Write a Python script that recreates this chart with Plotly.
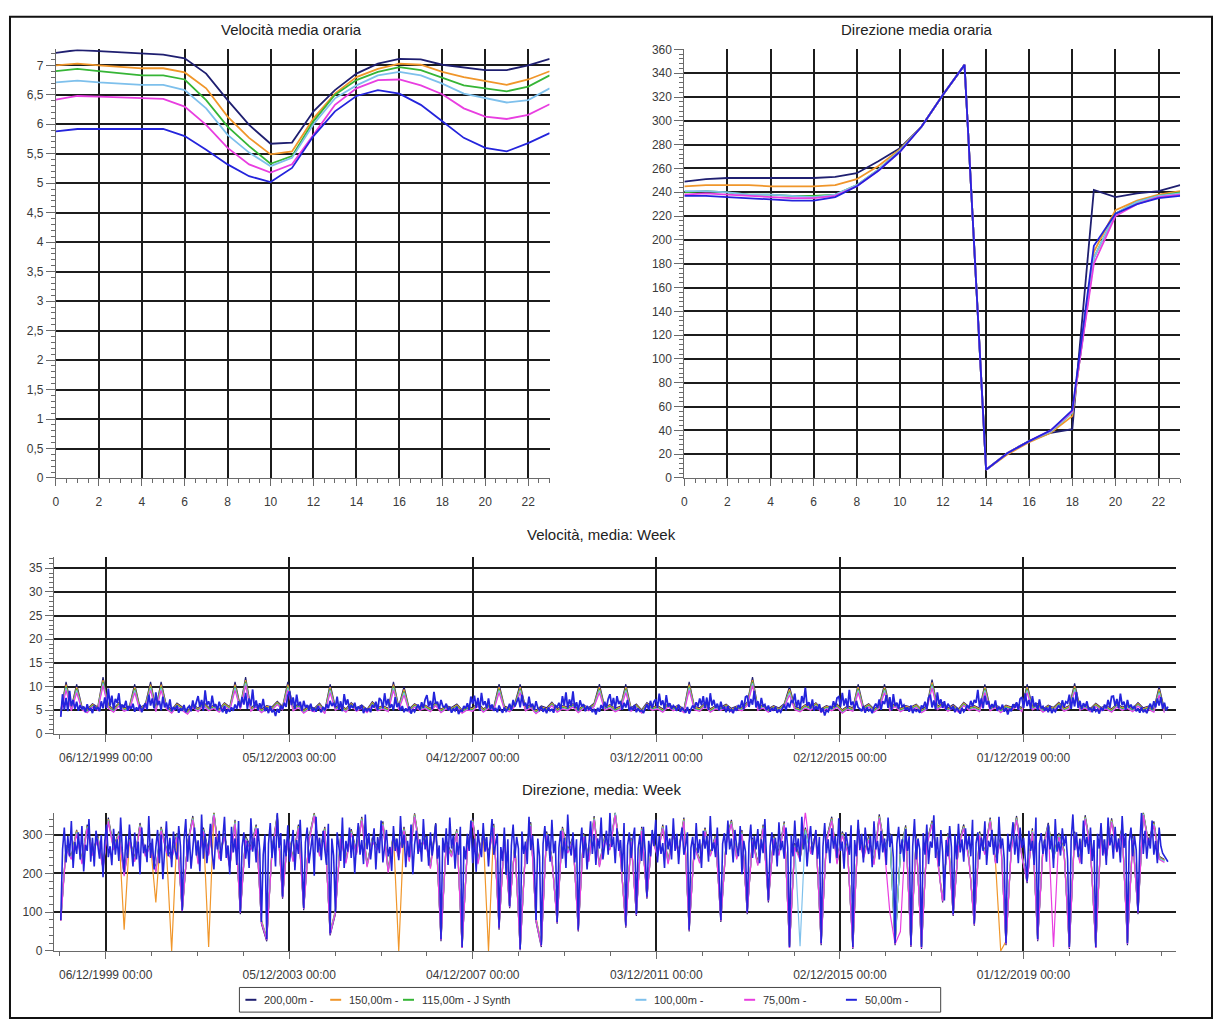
import pandas as pd
import plotly.graph_objects as go

W, H = 1215, 1028
FONT = "Liberation Sans, Arial, sans-serif"

# ---- series metadata -------------------------------------------------------
series_names = ["200,00m -", "150,00m -", "115,00m - J Synth", "100,00m -", "75,00m -", "50,00m -"]
series_colors = ["#1f1f70", "#f0962a", "#36b536", "#7ec0ec", "#e83ee0", "#2424dc"]

# ---- hourly means ------------------------------------------------------------
hours = list(range(24))

vel_h_200 = [7.21, 7.26, 7.24, 7.22, 7.21, 7.18, 7.12, 6.86, 6.41, 5.99, 5.67, 5.69,
             6.22, 6.58, 6.86, 7.03, 7.11, 7.10, 7.01, 6.96, 6.92, 6.92, 7.00, 7.11]
vel_h_150 = [7.00, 7.03, 7.00, 6.97, 6.95, 6.95, 6.88, 6.61, 6.13, 5.77, 5.49, 5.54,
             6.10, 6.52, 6.80, 6.94, 7.03, 7.01, 6.89, 6.80, 6.73, 6.67, 6.76, 6.90]
vel_h_115 = [6.90, 6.94, 6.90, 6.86, 6.83, 6.83, 6.76, 6.41, 5.96, 5.63, 5.33, 5.46,
             6.05, 6.50, 6.75, 6.89, 6.97, 6.92, 6.79, 6.66, 6.61, 6.56, 6.64, 6.83]
vel_h_100 = [6.71, 6.74, 6.71, 6.69, 6.67, 6.67, 6.58, 6.27, 5.82, 5.52, 5.29, 5.43,
             6.00, 6.44, 6.66, 6.83, 6.89, 6.83, 6.69, 6.52, 6.44, 6.37, 6.41, 6.61]
vel_h_75 = [6.42, 6.48, 6.47, 6.46, 6.44, 6.43, 6.30, 5.99, 5.60, 5.32, 5.18, 5.32,
            5.82, 6.33, 6.61, 6.75, 6.76, 6.66, 6.51, 6.27, 6.13, 6.09, 6.16, 6.34]
vel_h_50 = [5.88, 5.92, 5.92, 5.92, 5.92, 5.92, 5.80, 5.57, 5.32, 5.12, 5.02, 5.26,
            5.80, 6.22, 6.48, 6.58, 6.52, 6.33, 6.05, 5.77, 5.60, 5.54, 5.68, 5.85]

dir_h_200 = [249, 251, 252, 252, 252, 252, 252, 253, 256, 266, 277, 295,
             322, 347, 7, 21, 31, 38, 41, 242, 236, 239, 241, 246]
dir_h_150 = [245, 246, 246, 246, 245, 245, 245, 246, 251, 262, 276, 295,
             322, 347, 7, 20, 30, 38, 52, 190, 225, 233, 238, 241]
dir_h_115 = [240, 241, 240, 238, 238, 237, 237, 238, 246, 259, 275, 295,
             322, 347, 7, 21, 31, 39, 55, 185, 222, 232, 237, 240]
dir_h_100 = [241, 241, 240, 238, 238, 237, 236, 238, 246, 259, 275, 295,
             322, 347, 7, 21, 31, 39, 55, 185, 222, 232, 237, 239]
dir_h_75 = [238, 239, 238, 237, 236, 235, 235, 237, 245, 258, 274, 295,
            322, 347, 7, 21, 31, 40, 56, 180, 220, 230, 236, 238]
dir_h_50 = [237, 237, 236, 235, 234, 233, 233, 236, 245, 258, 274, 295,
            322, 347, 7, 21, 31, 40, 57, 195, 222, 230, 235, 237]

# ---- weekly means --------------------------------------------------------------
# 50 m level sampled every 2 weeks, the other levels every 6 weeks
week_dates_fine = pd.date_range("1998-12-14", periods=630, freq="14D")
week_dates = pd.date_range("1998-12-14", periods=210, freq="42D")

vel_w_50 = [
    3.6, 8.4, 5.1, 7.6, 4.8, 9.1, 5.9, 7.2, 5.3, 6.8, 4.9, 6.1, 5.2, 5.8, 4.6, 6.3, 5.0, 5.5, 4.4, 6.0, 5.1, 5.7, 4.8, 6.9, 5.4, 7.7,
    5.5, 9.6, 6.0, 8.1, 5.2, 7.4, 6.6, 8.6, 5.1, 6.2, 5.6, 7.0, 4.9, 5.9, 5.3, 6.4, 4.7, 5.6, 5.0, 6.2, 4.6, 5.8, 6.5, 5.2, 8.3, 6.0,
    7.5, 5.4, 8.8, 6.1, 7.0, 5.0, 7.9, 5.6, 6.6, 5.2, 7.3, 4.8, 5.7, 5.1, 6.0, 4.5, 5.4, 4.9, 6.1, 4.6, 5.5, 5.9, 4.8, 7.1, 5.3, 6.7,
    8.0, 5.7, 7.2, 4.9, 9.2, 6.2, 6.9, 5.4, 8.1, 5.8, 6.3, 5.0, 6.8, 5.5, 4.6, 5.9, 4.3, 5.2, 4.7, 5.6, 4.9, 6.2, 5.3, 6.9, 5.6, 7.8,
    6.2, 8.7, 5.3, 7.5, 6.0, 9.4, 5.6, 7.1, 5.0, 6.5, 5.4, 7.4, 4.8, 5.6, 4.4, 5.9, 4.6, 5.1, 3.8, 5.3, 4.5, 6.0, 5.2, 6.6, 5.7, 8.2,
    9.0, 6.1, 7.7, 5.3, 8.3, 5.9, 6.8, 4.9, 7.0, 5.6, 6.1, 5.1, 6.4, 4.8, 5.5, 4.7, 5.9, 5.2, 4.6, 5.7, 5.0, 6.3, 5.4, 7.0, 5.9, 6.6,
    5.6, 7.9, 5.1, 6.9, 4.8, 8.4, 6.2, 7.3, 5.2, 6.0, 5.5, 6.6, 4.9, 5.8, 5.3, 6.1, 4.4, 5.5, 4.8, 5.4, 4.6, 6.1, 5.6, 6.8, 5.0, 7.6,
    7.1, 5.4, 8.6, 6.0, 7.4, 5.5, 6.3, 5.0, 7.8, 5.7, 6.5, 4.9, 5.9, 4.6, 5.4, 4.8, 5.8, 4.3, 5.2, 4.7, 5.6, 6.2, 5.1, 6.7, 5.5, 7.3,
    8.2, 5.8, 7.0, 5.2, 8.9, 6.4, 6.8, 5.3, 7.2, 5.9, 5.6, 6.4, 5.0, 5.7, 4.5, 5.3, 4.9, 5.8, 4.2, 5.0, 4.8, 5.9, 5.4, 6.5, 5.1, 7.9,
    6.4, 8.1, 5.5, 7.6, 5.0, 8.7, 6.1, 6.9, 5.4, 7.5, 5.2, 6.2, 4.9, 5.5, 4.6, 6.0, 5.1, 4.5, 5.6, 4.8, 5.3, 6.4, 5.0, 7.2, 5.8, 6.9,
    7.7, 5.6, 8.3, 6.0, 6.6, 5.3, 7.9, 5.7, 6.4, 5.1, 6.9, 5.5, 5.0, 5.8, 4.7, 5.4, 4.4, 5.6, 4.9, 5.2, 4.5, 6.0, 5.7, 6.6, 5.2, 8.0,
    6.0, 8.8, 5.4, 7.3, 5.9, 9.0, 5.5, 6.7, 5.0, 7.1, 5.8, 6.3, 4.8, 5.9, 5.2, 5.6, 4.6, 5.3, 4.1, 5.5, 4.7, 6.1, 5.3, 6.8, 5.6, 7.4,
    8.4, 5.9, 7.6, 5.3, 8.0, 6.3, 7.0, 5.1, 6.6, 5.6, 7.2, 4.9, 5.7, 5.0, 6.1, 4.6, 5.4, 4.8, 5.0, 4.4, 5.6, 6.3, 5.1, 7.0, 5.5, 6.8,
    7.3, 5.5, 8.5, 6.1, 7.1, 5.2, 8.2, 5.8, 6.5, 5.3, 6.0, 5.6, 4.9, 6.2, 4.7, 5.5, 5.0, 4.5, 5.7, 4.3, 5.2, 6.0, 5.4, 6.7, 5.8, 7.5,
    6.1, 8.0, 5.4, 7.7, 5.1, 8.6, 6.0, 7.2, 5.5, 6.4, 5.0, 6.8, 5.3, 5.7, 4.6, 5.9, 4.8, 5.2, 4.4, 5.6, 4.9, 6.1, 5.5, 7.1, 5.2, 7.8,
    8.1, 5.7, 7.4, 6.2, 9.1, 5.6, 6.9, 5.2, 7.6, 5.8, 6.2, 5.0, 6.0, 4.7, 5.5, 4.9, 5.8, 4.5, 5.1, 4.6, 5.4, 6.2, 5.0, 6.6, 5.6, 7.0,
    6.7, 8.5, 5.6, 7.2, 5.3, 8.0, 6.5, 9.8, 5.9, 6.7, 5.4, 7.3, 4.9, 5.8, 5.1, 6.3, 4.6, 5.4, 3.9, 5.0, 4.7, 5.9, 5.3, 6.9, 5.7, 7.6,
    7.9, 5.8, 8.7, 6.0, 7.5, 5.4, 9.3, 6.1, 6.8, 5.2, 7.0, 5.6, 5.3, 4.8, 5.9, 4.5, 5.6, 4.9, 5.2, 4.4, 5.7, 6.4, 5.5, 7.3, 5.1, 6.9,
    6.3, 8.2, 5.5, 7.8, 5.0, 8.4, 5.9, 6.6, 5.3, 7.4, 5.7, 6.1, 5.0, 5.6, 4.7, 6.0, 4.4, 5.3, 4.8, 5.1, 4.5, 6.0, 5.6, 6.8, 5.2, 7.7,
    8.3, 5.6, 7.1, 5.2, 8.8, 6.3, 7.3, 5.5, 6.9, 5.1, 6.4, 5.7, 5.2, 5.9, 4.6, 5.4, 5.0, 4.3, 5.5, 4.7, 5.2, 6.1, 5.4, 7.0, 5.8, 7.2,
    6.6, 9.3, 5.7, 7.5, 5.4, 8.1, 6.2, 7.0, 5.3, 6.3, 5.6, 7.1, 4.9, 5.7, 5.2, 6.2, 4.7, 5.5, 4.1, 5.3, 4.8, 6.3, 5.5, 6.7, 5.1, 7.4,
    7.8, 5.5, 8.6, 5.9, 7.2, 5.3, 8.0, 5.8, 6.6, 5.0, 7.3, 5.4, 5.8, 4.9, 5.6, 4.6, 5.9, 4.4, 5.2, 4.7, 5.5, 6.0, 5.3, 7.1, 5.7, 6.8,
    6.5, 8.3, 5.3, 7.7, 5.8, 8.9, 5.5, 7.0, 5.2, 6.5, 5.7, 6.9, 5.0, 5.5, 4.6, 5.8, 4.8, 5.2, 4.3, 5.6, 4.9, 6.2, 5.4, 7.2, 5.6, 7.9,
    8.0, 5.9, 7.4, 5.4, 8.5, 6.1, 6.8, 5.1, 7.2, 5.6, 6.2, 5.3, 5.9, 4.8, 5.4, 4.5, 5.7, 4.6, 5.1, 4.4, 5.5, 6.4, 5.2, 6.9, 5.6, 7.5,
    6.0, 7.8, 5.3, 6.6, 5.0, 5.8,
]
vel_w_200 = [
    5.0, 11.0, 5.6, 10.5, 5.8, 5.2, 6.4, 5.7, 12.0, 6.1, 5.3, 6.6, 5.5, 5.9,
    10.5, 5.6, 6.2, 11.0, 5.4, 11.0, 6.0, 5.1, 6.5, 5.7, 4.9, 6.3, 5.4, 6.7,
    5.6, 6.1, 5.3, 6.6, 5.7, 11.0, 5.9, 12.0, 5.5, 6.4, 5.2, 6.0, 5.7, 6.9,
    5.8, 11.0, 5.6, 6.3, 5.1, 5.9, 5.4, 6.5, 5.0, 10.5, 5.7, 6.2, 5.3, 6.6,
    5.5, 6.1, 5.2, 6.8, 5.6, 6.0, 5.4, 11.0, 5.8, 10.0, 5.3, 6.4, 5.7, 6.1,
    5.4, 6.7, 5.2, 6.0, 5.6, 6.3, 5.1, 5.8, 5.5, 6.6, 5.3, 6.1, 5.7, 10.5,
    5.9, 5.4, 6.5, 10.5, 5.6, 6.2, 5.0, 5.9, 5.5, 6.7, 5.3, 6.0, 5.7, 6.4,
    5.2, 6.1, 5.6, 6.5, 10.5, 5.7, 6.2, 5.4, 5.9, 10.5, 5.5, 6.3, 5.1, 6.6,
    5.7, 6.0, 5.3, 6.4, 5.6, 6.1, 5.2, 11.0, 5.8, 5.5, 6.6, 5.3, 6.0, 5.7,
    6.3, 5.4, 5.9, 5.6, 6.7, 12.0, 5.7, 6.2, 5.3, 6.0, 5.5, 6.4, 10.0, 5.8,
    5.4, 6.2, 5.7, 6.6, 5.3, 6.0, 5.6, 6.3, 5.1, 5.9, 5.5, 10.5, 5.7, 6.4,
    5.3, 6.1, 10.5, 5.6, 6.5, 5.4, 6.0, 5.7, 6.3, 5.2, 5.9, 11.5, 5.8, 6.6,
    5.5, 6.2, 5.3, 6.7, 5.7, 6.0, 5.4, 10.5, 5.6, 6.3, 5.2, 6.1, 5.7, 6.5,
    5.4, 10.5, 5.8, 6.4, 5.3, 6.1, 5.6, 6.7, 5.5, 6.0, 10.7, 5.7, 6.2, 5.4,
    6.5, 5.6, 6.0, 5.3, 6.4, 5.7, 6.1, 5.4, 6.6, 5.5, 5.9, 5.3, 10.0, 5.2,
]
vel_w_150 = [
    4.8, 10.4, 5.4, 9.9, 5.6, 5.0, 6.2, 5.5, 11.4, 5.9, 5.1, 6.4, 5.3, 5.7,
    9.9, 5.4, 6.0, 10.4, 5.2, 10.4, 5.8, 4.9, 6.3, 5.5, 4.7, 6.1, 5.2, 6.5,
    5.4, 5.9, 5.1, 6.4, 5.5, 10.4, 5.7, 11.4, 5.3, 6.2, 5.0, 5.8, 5.5, 6.7,
    5.6, 10.4, 5.4, 6.1, 4.9, 5.7, 5.2, 6.3, 4.8, 9.9, 5.5, 6.0, 5.1, 6.4,
    5.3, 5.9, 5.0, 6.6, 5.4, 5.8, 5.2, 10.4, 5.6, 9.4, 5.1, 6.2, 5.5, 5.9,
    5.2, 6.5, 5.0, 5.8, 5.4, 6.1, 4.9, 5.6, 5.3, 6.4, 5.1, 5.9, 5.5, 9.9,
    5.7, 5.2, 6.3, 9.9, 5.4, 6.0, 4.8, 5.7, 5.3, 6.5, 5.1, 5.8, 5.5, 6.2,
    5.0, 5.9, 5.4, 6.3, 9.9, 5.5, 6.0, 5.2, 5.7, 9.9, 5.3, 6.1, 4.9, 6.4,
    5.5, 5.8, 5.1, 6.2, 5.4, 5.9, 5.0, 10.4, 5.6, 5.3, 6.4, 5.1, 5.8, 5.5,
    6.1, 5.2, 5.7, 5.4, 6.5, 11.4, 5.5, 6.0, 5.1, 5.8, 5.3, 6.2, 9.4, 5.6,
    5.2, 6.0, 5.5, 6.4, 5.1, 5.8, 5.4, 6.1, 4.9, 5.7, 5.3, 9.9, 5.5, 6.2,
    5.1, 5.9, 9.9, 5.4, 6.3, 5.2, 5.8, 5.5, 6.1, 5.0, 5.7, 10.9, 5.6, 6.4,
    5.3, 6.0, 5.1, 6.5, 5.5, 5.8, 5.2, 9.9, 5.4, 6.1, 5.0, 5.9, 5.5, 6.3,
    5.2, 9.9, 5.6, 6.2, 5.1, 5.9, 5.4, 6.5, 5.3, 5.8, 10.1, 5.5, 6.0, 5.2,
    6.3, 5.4, 5.8, 5.1, 6.2, 5.5, 5.9, 5.2, 6.4, 5.3, 5.7, 5.1, 9.4, 5.0,
]
vel_w_115 = [
    4.6, 10.0, 5.2, 9.5, 5.4, 4.8, 6.0, 5.3, 11.0, 5.7, 4.9, 6.2, 5.1, 5.5,
    9.5, 5.2, 5.8, 10.0, 5.0, 10.0, 5.6, 4.7, 6.1, 5.3, 4.5, 5.9, 5.0, 6.3,
    5.2, 5.7, 4.9, 6.2, 5.3, 10.0, 5.5, 11.0, 5.1, 6.0, 4.8, 5.6, 5.3, 6.5,
    5.4, 10.0, 5.2, 5.9, 4.7, 5.5, 5.0, 6.1, 4.6, 9.5, 5.3, 5.8, 4.9, 6.2,
    5.1, 5.7, 4.8, 6.4, 5.2, 5.6, 5.0, 10.0, 5.4, 9.0, 4.9, 6.0, 5.3, 5.7,
    5.0, 6.3, 4.8, 5.6, 5.2, 5.9, 4.7, 5.4, 5.1, 6.2, 4.9, 5.7, 5.3, 9.5,
    5.5, 5.0, 6.1, 9.5, 5.2, 5.8, 4.6, 5.5, 5.1, 6.3, 4.9, 5.6, 5.3, 6.0,
    4.8, 5.7, 5.2, 6.1, 9.5, 5.3, 5.8, 5.0, 5.5, 9.5, 5.1, 5.9, 4.7, 6.2,
    5.3, 5.6, 4.9, 6.0, 5.2, 5.7, 4.8, 10.0, 5.4, 5.1, 6.2, 4.9, 5.6, 5.3,
    5.9, 5.0, 5.5, 5.2, 6.3, 11.0, 5.3, 5.8, 4.9, 5.6, 5.1, 6.0, 9.0, 5.4,
    5.0, 5.8, 5.3, 6.2, 4.9, 5.6, 5.2, 5.9, 4.7, 5.5, 5.1, 9.5, 5.3, 6.0,
    4.9, 5.7, 9.5, 5.2, 6.1, 5.0, 5.6, 5.3, 5.9, 4.8, 5.5, 10.5, 5.4, 6.2,
    5.1, 5.8, 4.9, 6.3, 5.3, 5.6, 5.0, 9.5, 5.2, 5.9, 4.8, 5.7, 5.3, 6.1,
    5.0, 9.5, 5.4, 6.0, 4.9, 5.7, 5.2, 6.3, 5.1, 5.6, 9.7, 5.3, 5.8, 5.0,
    6.1, 5.2, 5.6, 4.9, 6.0, 5.3, 5.7, 5.0, 6.2, 5.1, 5.5, 4.9, 9.0, 4.8,
]
vel_w_100 = [
    4.4, 9.7, 5.0, 9.2, 5.2, 4.6, 5.8, 5.1, 10.7, 5.5, 4.7, 6.0, 4.9, 5.3,
    9.2, 5.0, 5.6, 9.7, 4.8, 9.7, 5.4, 4.5, 5.9, 5.1, 4.3, 5.7, 4.8, 6.1,
    5.0, 5.5, 4.7, 6.0, 5.1, 9.7, 5.3, 10.7, 4.9, 5.8, 4.6, 5.4, 5.1, 6.3,
    5.2, 9.7, 5.0, 5.7, 4.5, 5.3, 4.8, 5.9, 4.4, 9.2, 5.1, 5.6, 4.7, 6.0,
    4.9, 5.5, 4.6, 6.2, 5.0, 5.4, 4.8, 9.7, 5.2, 8.7, 4.7, 5.8, 5.1, 5.5,
    4.8, 6.1, 4.6, 5.4, 5.0, 5.7, 4.5, 5.2, 4.9, 6.0, 4.7, 5.5, 5.1, 9.2,
    5.3, 4.8, 5.9, 9.2, 5.0, 5.6, 4.4, 5.3, 4.9, 6.1, 4.7, 5.4, 5.1, 5.8,
    4.6, 5.5, 5.0, 5.9, 9.2, 5.1, 5.6, 4.8, 5.3, 9.2, 4.9, 5.7, 4.5, 6.0,
    5.1, 5.4, 4.7, 5.8, 5.0, 5.5, 4.6, 9.7, 5.2, 4.9, 6.0, 4.7, 5.4, 5.1,
    5.7, 4.8, 5.3, 5.0, 6.1, 10.7, 5.1, 5.6, 4.7, 5.4, 4.9, 5.8, 8.7, 5.2,
    4.8, 5.6, 5.1, 6.0, 4.7, 5.4, 5.0, 5.7, 4.5, 5.3, 4.9, 9.2, 5.1, 5.8,
    4.7, 5.5, 9.2, 5.0, 5.9, 4.8, 5.4, 5.1, 5.7, 4.6, 5.3, 10.2, 5.2, 6.0,
    4.9, 5.6, 4.7, 6.1, 5.1, 5.4, 4.8, 9.2, 5.0, 5.7, 4.6, 5.5, 5.1, 5.9,
    4.8, 9.2, 5.2, 5.8, 4.7, 5.5, 5.0, 6.1, 4.9, 5.4, 9.4, 5.1, 5.6, 4.8,
    5.9, 5.0, 5.4, 4.7, 5.8, 5.1, 5.5, 4.8, 6.0, 4.9, 5.3, 4.7, 8.7, 4.6,
]
vel_w_75 = [
    4.3, 9.2, 4.9, 8.7, 5.1, 4.5, 5.7, 5.0, 10.2, 5.4, 4.6, 5.9, 4.8, 5.2,
    8.7, 4.9, 5.5, 9.2, 4.7, 9.2, 5.3, 4.4, 5.8, 5.0, 4.2, 5.6, 4.7, 6.0,
    4.9, 5.4, 4.6, 5.9, 5.0, 9.2, 5.2, 10.2, 4.8, 5.7, 4.5, 5.3, 5.0, 6.2,
    5.1, 9.2, 4.9, 5.6, 4.4, 5.2, 4.7, 5.8, 4.3, 8.7, 5.0, 5.5, 4.6, 5.9,
    4.8, 5.4, 4.5, 6.1, 4.9, 5.3, 4.7, 9.2, 5.1, 8.2, 4.6, 5.7, 5.0, 5.4,
    4.7, 6.0, 4.5, 5.3, 4.9, 5.6, 4.4, 5.1, 4.8, 5.9, 4.6, 5.4, 5.0, 8.7,
    5.2, 4.7, 5.8, 8.7, 4.9, 5.5, 4.3, 5.2, 4.8, 6.0, 4.6, 5.3, 5.0, 5.7,
    4.5, 5.4, 4.9, 5.8, 8.7, 5.0, 5.5, 4.7, 5.2, 8.7, 4.8, 5.6, 4.4, 5.9,
    5.0, 5.3, 4.6, 5.7, 4.9, 5.4, 4.5, 9.2, 5.1, 4.8, 5.9, 4.6, 5.3, 5.0,
    5.6, 4.7, 5.2, 4.9, 6.0, 10.2, 5.0, 5.5, 4.6, 5.3, 4.8, 5.7, 8.2, 5.1,
    4.7, 5.5, 5.0, 5.9, 4.6, 5.3, 4.9, 5.6, 4.4, 5.2, 4.8, 8.7, 5.0, 5.7,
    4.6, 5.4, 8.7, 4.9, 5.8, 4.7, 5.3, 5.0, 5.6, 4.5, 5.2, 9.7, 5.1, 5.9,
    4.8, 5.5, 4.6, 6.0, 5.0, 5.3, 4.7, 8.7, 4.9, 5.6, 4.5, 5.4, 5.0, 5.8,
    4.7, 8.7, 5.1, 5.7, 4.6, 5.4, 4.9, 6.0, 4.8, 5.3, 8.9, 5.0, 5.5, 4.7,
    5.8, 4.9, 5.3, 4.6, 5.7, 5.0, 5.4, 4.7, 5.9, 4.8, 5.2, 4.6, 8.2, 4.5,
]

dir_w_50 = [
    80, 262, 318, 228, 296, 244, 335, 214, 281, 250, 306, 236, 322, 205, 274, 258, 340, 230, 292, 218, 310, 266, 238, 299, 190, 284, 326, 242, 270, 221,
    315, 248, 288, 232, 344, 256, 203, 297, 240, 326, 262, 218, 305, 236, 282, 198, 318, 252, 274, 229, 348, 240, 290, 210, 268, 312, 226, 300, 185, 276,
    334, 244, 292, 216, 308, 258, 236, 322, 270, 105, 286, 340, 230, 298, 212, 264, 318, 246, 285, 205, 352, 238, 302, 226, 276, 328, 250, 210, 294, 262,
    310, 232, 286, 346, 240, 272, 198, 320, 254, 290, 222, 335, 100, 268, 306, 238, 284, 214, 342, 256, 292, 228, 316, 262, 75, 248, 300, 30, 276, 330,
    240, 296, 218, 356, 266, 304, 140, 288, 244, 324, 230, 270, 312, 208, 286, 250, 338, 236, 110, 280, 318, 226, 264, 300, 194, 346, 254, 292, 234, 310,
    262, 222, 328, 45, 290, 246, 100, 306, 268, 232, 344, 214, 284, 256, 318, 240, 298, 200, 276, 330, 248, 286, 224, 352, 262, 304, 236, 278, 316, 210,
    294, 252, 336, 228, 280, 312, 244, 268, 206, 322, 258, 290, 234, 348, 266, 300, 216, 284, 242, 326, 198, 274, 310, 250, 288, 230, 340, 262, 296, 220,
    306, 246, 284, 328, 238, 272, 30, 292, 254, 316, 222, 344, 264, 298, 212, 280, 248, 320, 10, 270, 236, 302, 258, 336, 226, 290, 204, 312, 268, 242,
    330, 256, 294, 218, 286, 340, 248, 276, 302, 60, 268, 232, 318, 196, 288, 115, 272, 326, 240, 294, 264, 5, 308, 250, 282, 224, 346, 260, 298, 236,
    80, 290, 244, 15, 276, 322, 258, 300, 230, 338, 252, 284, 75, 266, 310, 238, 292, 214, 352, 270, 246, 306, 228, 288, 55, 262, 318, 240, 296, 210,
    278, 334, 250, 300, 222, 290, 264, 344, 236, 282, 310, 248, 356, 268, 294, 226, 316, 258, 286, 204, 330, 65, 272, 306, 240, 288, 318, 95, 264, 298,
    232, 320, 256, 140, 284, 244, 312, 270, 338, 228, 296, 250, 278, 214, 324, 262, 290, 236, 342, 258, 302, 224, 286, 318, 248, 272, 306, 55, 266, 294,
    236, 330, 252, 288, 214, 310, 264, 296, 230, 348, 258, 280, 242, 318, 206, 80, 276, 304, 248, 336, 262, 290, 228, 312, 270, 244, 322, 198, 284, 256,
    100, 278, 326, 240, 296, 262, 314, 226, 288, 252, 340, 234, 130, 270, 306, 246, 292, 218, 332, 260, 284, 238, 318, 266, 10, 298, 244, 336, 256, 290,
    230, 346, 262, 300, 218, 284, 322, 248, 276, 312, 238, 294, 20, 268, 330, 252, 288, 226, 316, 264, 296, 240, 342, 258, 282, 212, 306, 270, 248, 324,
    10, 286, 244, 338, 260, 302, 228, 318, 272, 250, 296, 216, 334, 262, 284, 236, 310, 254, 290, 222, 344, 268, 300, 242, 20, 276, 320, 250, 288, 230,
    314, 258, 296, 15, 270, 340, 236, 290, 262, 10, 304, 248, 326, 224, 282, 266, 350, 240, 294, 218, 312, 256, 130, 286, 244, 322, 268, 95, 300, 236,
    328, 254, 288, 230, 316, 262, 296, 244, 338, 70, 278, 306, 236, 292, 258, 334, 222, 284, 268, 312, 248, 296, 226, 346, 264, 290, 238, 20, 302, 256,
    286, 332, 248, 300, 226, 318, 266, 292, 240, 180, 310, 258, 284, 222, 344, 30, 276, 304, 250, 288, 230, 326, 262, 296, 214, 340, 256, 282, 246, 316,
    270, 298, 236, 10, 284, 352, 260, 306, 242, 290, 224, 336, 268, 294, 250, 318, 232, 286, 10, 302, 264, 330, 246, 288, 222, 344, 272, 300, 238, 320,
    256, 290, 228, 348, 266, 304, 20, 282, 318, 244, 296, 260, 100, 276, 356, 250, 310, 238, 292, 264, 336, 248, 284, 226, 318, 270, 252, 244, 236, 230,
]
dir_w_200 = [
    78, 272, 244, 312, 232, 326, 254, 298, 218, 344, 268, 308, 200, 292,
    238, 330, 252, 278, 210, 320, 264, 244, 304, 100, 278, 348, 232, 318,
    254, 358, 244, 304, 220, 338, 95, 296, 268, 326, 70, 25, 262, 352,
    135, 304, 238, 326, 105, 292, 356, 252, 320, 40, 95, 300, 234, 314,
    256, 346, 224, 292, 268, 334, 210, 304, 246, 320, 238, 355, 264, 298,
    220, 330, 25, 284, 250, 314, 8, 268, 342, 232, 306, 254, 328, 55,
    298, 110, 276, 2, 264, 332, 75, 10, 308, 242, 70, 320, 260, 294,
    50, 304, 238, 348, 224, 296, 268, 358, 246, 60, 292, 90, 320, 135,
    300, 250, 326, 232, 308, 258, 344, 50, 276, 234, 318, 252, 300, 75,
    282, 338, 244, 312, 95, 292, 228, 326, 125, 298, 254, 334, 8, 278,
    242, 318, 258, 304, 15, 290, 346, 232, 308, 262, 5, 320, 246, 296,
    230, 352, 268, 304, 15, 256, 324, 10, 296, 5, 280, 336, 244, 125,
    304, 90, 276, 326, 238, 65, 308, 256, 344, 234, 294, 15, 268, 348,
    250, 175, 316, 25, 268, 330, 242, 304, 260, 5, 308, 234, 350, 268,
    8, 306, 246, 342, 262, 320, 15, 296, 95, 358, 280, 334, 244, 236,
]
dir_w_150 = [
    82, 270, 242, 310, 230, 322, 252, 294, 216, 340, 266, 304, 55, 288,
    236, 326, 250, 274, 125, 316, 262, 0, 300, 110, 276, 344, 230, 314,
    10, 356, 242, 300, 218, 334, 105, 292, 266, 322, 80, 35, 260, 348,
    145, 300, 236, 322, 115, 288, 354, 250, 316, 50, 105, 296, 232, 310,
    254, 342, 222, 288, 266, 330, 208, 300, 0, 316, 236, 352, 262, 294,
    218, 326, 35, 280, 248, 310, 15, 266, 338, 230, 302, 0, 324, 65,
    294, 120, 274, 10, 262, 328, 85, 20, 304, 240, 80, 316, 258, 290,
    60, 300, 236, 344, 222, 292, 266, 355, 244, 70, 288, 100, 316, 145,
    296, 248, 322, 230, 304, 256, 340, 60, 274, 232, 314, 250, 296, 85,
    280, 334, 242, 308, 105, 288, 226, 322, 135, 294, 252, 330, 15, 274,
    240, 314, 256, 300, 25, 286, 342, 230, 304, 260, 15, 316, 244, 292,
    228, 348, 266, 300, 25, 254, 320, 20, 292, 15, 278, 332, 242, 135,
    300, 100, 274, 322, 236, 75, 304, 254, 340, 232, 0, 25, 266, 344,
    248, 185, 312, 35, 266, 326, 240, 300, 258, 15, 304, 232, 346, 266,
    15, 302, 244, 338, 260, 316, 25, 292, 105, 355, 278, 330, 242, 234,
]
dir_w_115 = [
    80, 267, 240, 307, 228, 320, 250, 292, 214, 338, 264, 302, 197, 286,
    234, 324, 248, 272, 207, 314, 260, 240, 298, 107, 274, 342, 228, 312,
    250, 354, 240, 298, 216, 332, 102, 290, 264, 320, 77, 32, 258, 346,
    142, 298, 234, 320, 112, 286, 352, 248, 314, 47, 102, 294, 230, 308,
    252, 340, 220, 286, 264, 328, 206, 298, 242, 314, 234, 350, 260, 292,
    216, 324, 32, 278, 246, 308, 12, 264, 336, 228, 300, 250, 322, 62,
    292, 117, 272, 7, 260, 326, 82, 17, 302, 238, 77, 314, 256, 288,
    57, 298, 234, 342, 220, 290, 264, 354, 242, 67, 286, 97, 314, 142,
    294, 246, 320, 228, 302, 254, 338, 57, 272, 230, 312, 248, 294, 82,
    278, 332, 240, 306, 102, 286, 224, 320, 132, 292, 250, 328, 12, 272,
    238, 312, 254, 298, 22, 284, 340, 228, 302, 258, 12, 314, 242, 290,
    226, 346, 264, 298, 22, 252, 318, 17, 290, 12, 276, 330, 240, 132,
    298, 97, 272, 320, 234, 72, 302, 252, 338, 230, 288, 22, 264, 342,
    246, 182, 310, 32, 264, 324, 238, 298, 256, 12, 302, 230, 344, 264,
    12, 300, 242, 336, 258, 314, 22, 290, 102, 354, 276, 328, 240, 232,
]
dir_w_100 = [
    79, 266, 239, 306, 227, 319, 249, 291, 213, 337, 263, 301, 196, 285,
    233, 323, 247, 271, 206, 313, 259, 239, 297, 106, 273, 341, 227, 311,
    249, 353, 239, 297, 215, 331, 101, 289, 263, 319, 76, 31, 257, 345,
    141, 297, 233, 319, 111, 285, 351, 247, 313, 46, 101, 293, 229, 307,
    251, 339, 219, 285, 263, 327, 205, 297, 241, 313, 233, 349, 259, 291,
    215, 323, 31, 277, 245, 307, 11, 263, 335, 227, 299, 249, 321, 61,
    291, 116, 271, 6, 259, 325, 81, 16, 301, 237, 76, 313, 255, 287,
    56, 297, 233, 341, 219, 289, 263, 355, 241, 66, 285, 96, 313, 141,
    293, 245, 319, 227, 301, 253, 337, 56, 271, 229, 311, 247, 293, 81,
    277, 331, 239, 305, 101, 285, 223, 319, 131, 291, 249, 327, 11, 271,
    12, 311, 253, 297, 21, 283, 339, 227, 301, 257, 11, 313, 241, 289,
    225, 345, 263, 297, 21, 251, 317, 16, 289, 11, 275, 329, 239, 131,
    297, 96, 271, 319, 233, 71, 301, 251, 337, 229, 287, 21, 263, 341,
    245, 181, 309, 31, 263, 323, 237, 297, 255, 11, 301, 229, 343, 263,
    11, 299, 241, 335, 257, 313, 21, 289, 101, 353, 275, 327, 239, 231,
]
dir_w_75 = [
    78, 262, 236, 302, 224, 316, 246, 288, 210, 334, 260, 298, 193, 282,
    230, 320, 244, 268, 203, 310, 256, 236, 294, 103, 270, 338, 224, 308,
    246, 350, 236, 294, 212, 328, 98, 286, 260, 316, 73, 28, 254, 342,
    138, 294, 230, 316, 108, 282, 348, 244, 310, 43, 98, 290, 226, 304,
    248, 336, 216, 282, 260, 324, 202, 294, 238, 310, 230, 346, 256, 288,
    212, 320, 28, 274, 242, 304, 8, 260, 332, 224, 296, 246, 318, 58,
    288, 113, 268, 3, 256, 322, 78, 13, 298, 234, 73, 310, 252, 284,
    53, 294, 230, 338, 216, 286, 260, 350, 238, 63, 282, 93, 310, 138,
    290, 242, 316, 224, 298, 250, 334, 53, 268, 226, 308, 244, 290, 78,
    274, 328, 236, 302, 98, 282, 220, 316, 128, 288, 246, 324, 8, 268,
    234, 358, 250, 294, 18, 280, 336, 224, 298, 254, 8, 310, 238, 286,
    222, 342, 260, 100, 18, 50, 314, 13, 286, 8, 272, 326, 236, 128,
    294, 93, 268, 316, 230, 68, 298, 248, 334, 226, 284, 18, 260, 338,
    242, 178, 306, 28, 260, 320, 10, 294, 252, 8, 298, 226, 340, 260,
    8, 296, 238, 332, 254, 310, 18, 286, 98, 350, 272, 324, 236, 228,
]

# ---- tick labels -------------------------------------------------------------
hour_ticks = list(range(0, 23, 2))
vel_ticks = [0, 0.5, 1, 1.5, 2, 2.5, 3, 3.5, 4, 4.5, 5, 5.5, 6, 6.5, 7]
vel_ticktext = ["0", "0,5", "1", "1,5", "2", "2,5", "3", "3,5", "4", "4,5", "5", "5,5", "6", "6,5", "7"]
dir_ticks = list(range(0, 361, 20))
wvel_ticks = [0, 5, 10, 15, 20, 25, 30, 35]
wdir_ticks = [0, 100, 200, 300]
week_tick_dates = ["1999-12-06", "2003-12-05", "2007-12-04", "2011-12-03", "2015-12-02", "2019-12-01"]
week_tick_text = ["06/12/1999 00:00", "05/12/2003 00:00", "04/12/2007 00:00",
                  "03/12/2011 00:00", "02/12/2015 00:00", "01/12/2019 00:00"]

# ---- figure ----------------------------------------------------------------
fig = go.Figure()


def px_x(p):
    return p / W


def px_y(p):
    return 1 - p / H


coarse = [week_dates] * 5 + [week_dates_fine]
panels = [
    ("x", "y", [hours] * 6, [vel_h_200, vel_h_150, vel_h_115, vel_h_100, vel_h_75, vel_h_50],
     [1.8] * 6),
    ("x2", "y2", [hours] * 6, [dir_h_200, dir_h_150, dir_h_115, dir_h_100, dir_h_75, dir_h_50],
     [1.8] * 6),
    ("x3", "y3", coarse, [vel_w_200, vel_w_150, vel_w_115, vel_w_100, vel_w_75, vel_w_50],
     [1.2] * 5 + [1.8]),
    ("x4", "y4", coarse, [dir_w_200, dir_w_150, dir_w_115, dir_w_100, dir_w_75, dir_w_50],
     [1.2] * 5 + [1.6]),
]
for xa, ya, xs_list, ys_list, widths in panels:
    for name, color, xs, ys, lw in zip(series_names, series_colors, xs_list, ys_list, widths):
        fig.add_trace(go.Scatter(
            x=xs, y=ys, mode="lines", name=name, xaxis=xa, yaxis=ya,
            line=dict(color=color, width=lw), showlegend=False,
            hoverinfo="skip"))

GRID = "#1c1c1c"
AXIS = "#6a6a6a"
TICKFONT = dict(family=FONT, size=12, color="#3a3a3a")


def axis_common(ticklen):
    return dict(
        showline=True, linecolor=AXIS, linewidth=1,
        ticks="outside", tickcolor=AXIS, ticklen=ticklen, tickwidth=1,
        showgrid=True, gridcolor=GRID, gridwidth=2,
        zeroline=False, tickfont=TICKFONT, fixedrange=True,
    )


minor_ticks = dict(ticks="outside", ticklen=4, tickcolor=AXIS, tickwidth=1, showgrid=False)

top_y = [px_y(477.5), px_y(43)]
mid_y = [px_y(737), px_y(558)]
bot_y = [px_y(957), px_y(817)]
wide_x = [px_x(51), px_x(1176)]
week_range = ["1998-10-20", "2023-03-29"]
year_minor = [d.strftime("%Y-%m-%d") for d in pd.date_range("1998-12-06", periods=25, freq="365D")]

fig.update_layout(
    xaxis=dict(axis_common(7), domain=[px_x(53), px_x(548)], range=[0, 23], anchor="y",
               tickmode="array", tickvals=hour_ticks, ticklabelstandoff=6,
               minor=dict(minor_ticks, dtick=0.5)),
    yaxis=dict(axis_common(9), domain=top_y, range=[0, 7.27], anchor="x",
               tickmode="array", tickvals=vel_ticks, ticktext=vel_ticktext,
               minor=dict(minor_ticks, dtick=0.1)),
    xaxis2=dict(axis_common(7), domain=[px_x(683), px_x(1180)], range=[0, 23], anchor="y2",
                tickmode="array", tickvals=hour_ticks, ticklabelstandoff=6,
                minor=dict(minor_ticks, dtick=0.5)),
    yaxis2=dict(axis_common(9), domain=top_y, range=[0, 360], anchor="x2",
                tickmode="array", tickvals=dir_ticks,
                minor=dict(minor_ticks, dtick=4)),
    xaxis3=dict(axis_common(7), domain=wide_x, range=week_range, type="date", anchor="y3",
                tickmode="array", tickvals=week_tick_dates, ticktext=week_tick_text,
                ticklabelstandoff=6, minor=dict(minor_ticks, tickvals=year_minor)),
    yaxis3=dict(axis_common(8), domain=mid_y, range=[0, 37.3], anchor="x3",
                tickmode="array", tickvals=wvel_ticks,
                minor=dict(minor_ticks, dtick=1)),
    xaxis4=dict(axis_common(7), domain=wide_x, range=week_range, type="date", anchor="y4",
                tickmode="array", tickvals=week_tick_dates, ticktext=week_tick_text,
                ticklabelstandoff=6, minor=dict(minor_ticks, tickvals=year_minor)),
    yaxis4=dict(axis_common(8), domain=bot_y, range=[0, 356], anchor="x4",
                tickmode="array", tickvals=wdir_ticks,
                minor=dict(minor_ticks, dtick=20)),
)

# panel titles
titles = [
    ("Velocità media oraria", 289, 23),
    ("Direzione media oraria", 916, 23),
    ("Velocità, media: Week", 600, 535),
    ("Direzione, media: Week", 600, 793),
]
annotations = []
for text, cx, cy in titles:
    annotations.append(dict(text=text, x=px_x(cx), y=px_y(cy), xref="paper", yref="paper",
                            xanchor="center", yanchor="middle", showarrow=False,
                            font=dict(family=FONT, size=15, color="#222222")))

# outer frame and legend box beneath the direction panel
shapes = [
    dict(type="rect", xref="paper", yref="paper", x0=px_x(7), x1=px_x(1212),
         y0=px_y(1025), y1=px_y(10), line=dict(color="#111111", width=2)),
    dict(type="rect", xref="paper", yref="paper", x0=px_x(237), x1=px_x(940),
         y0=px_y(1019), y1=px_y(994), line=dict(color="#444444", width=1)),
]
legend_starts = [243, 328, 401, 634, 743, 845]
for name, color, sx in zip(series_names, series_colors, legend_starts):
    shapes.append(dict(type="line", xref="paper", yref="paper", x0=px_x(sx), x1=px_x(sx + 11),
                       y0=px_y(1006.5), y1=px_y(1006.5), line=dict(color=color, width=2)))
    annotations.append(dict(text=name, x=px_x(sx + 17), y=px_y(1006.5), xref="paper", yref="paper",
                            xanchor="left", yanchor="middle", showarrow=False,
                            font=dict(family=FONT, size=11, color="#333333")))

fig.update_layout(
    width=W, height=H, margin=dict(l=0, r=0, t=0, b=0),
    paper_bgcolor="white", plot_bgcolor="white",
    annotations=annotations, shapes=shapes, showlegend=False,
    font=dict(family=FONT),
)

fig.write_html("out.html")
